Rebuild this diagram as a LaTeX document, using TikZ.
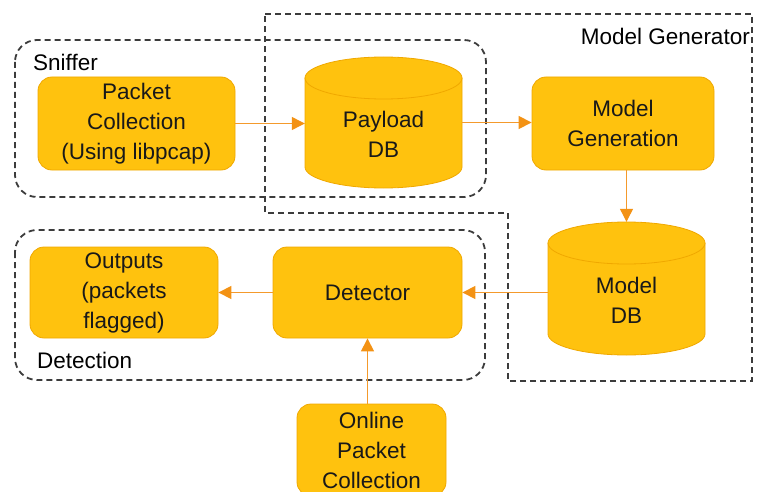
\documentclass[tikz,border=0pt]{standalone}
\usepackage{fontspec}
\setmainfont{Liberation Sans}
\usetikzlibrary{arrows.meta}

\definecolor{boxfill}{HTML}{FFC20E}
\definecolor{boxline}{HTML}{F0A800}
\definecolor{flow}{HTML}{F49A2C}
\definecolor{flowtip}{HTML}{F39214}
\definecolor{frame}{HTML}{3C3C3C}

\tikzset{
  txt/.style={font=\fontsize{22.5}{30}\selectfont, align=center, text=black!90, inner sep=0pt},
  box/.style={txt, draw=boxline, fill=boxfill, line width=0.8pt, rounded corners=14pt},
  dbnode/.style={inner sep=0pt},
  flowarrow/.style={draw=flow, line width=1.2pt, -{Triangle[length=13pt,width=13pt,color=flowtip]}},
  region/.style={draw=frame, line width=1.8pt, dash pattern=on 6pt off 4pt},
  title/.style={font=\fontsize{22.5}{27}\selectfont, text=black, inner sep=0pt},
}

% database cylinder: centre x, centre y, half width, half height
\newcommand\dbcylinder[4]{%
  \fill[boxfill] (#1-#3,#2+#4-21) -- (#1-#3,#2-#4+21)
    arc[start angle=180,end angle=360,x radius=#3,y radius=21]
    -- (#1+#3,#2+#4-21) -- cycle;
  \draw[boxline, line width=0.8pt] (#1-#3,#2+#4-21) -- (#1-#3,#2-#4+21)
    arc[start angle=180,end angle=360,x radius=#3,y radius=21]
    -- (#1+#3,#2+#4-21);
  \filldraw[fill=boxfill, draw=boxline, line width=0.8pt]
    (#1,#2+#4-21) ellipse[x radius=#3, y radius=21];
}

\begin{document}
\begin{tikzpicture}[x=1pt,y=1pt]
\useasboundingbox (0,0) rectangle (765,491);

% dashed groupings
\draw[region, rounded corners=22pt] (15,451) rectangle (486,294);
\draw[region, rounded corners=22pt] (15,261) rectangle (485,111);
\draw[region] (265,477) -- (752,477) -- (752,110) -- (508,110) -- (508,278) -- (265,278) -- cycle;

\node[title, anchor=west] (sniffer) at (33,429) {Sniffer};
\node[title, anchor=east] (modelgen) at (750,455) {Model Generator};
\node[title, anchor=west] (detection) at (37,131) {Detection};

% processing boxes
\node[box, minimum width=197pt, minimum height=93pt] (pc) at (136.5,367.5) {Packet\\Collection\\(Using libpcap)};
\node[box, minimum width=182pt, minimum height=93pt] (mg) at (623,367.5) {Model\\Generation};
\node[box, minimum width=189pt, minimum height=91pt] (det) at (367.5,198.5) {Detector};
\node[box, minimum width=188pt, minimum height=91pt] (out) at (124,198.5) {Outputs\\(packets\\flagged)};
\node[box, minimum width=149pt, minimum height=92pt] (online) at (371.5,41) {Online\\Packet\\Collection};

% databases
\dbcylinder{383.5}{368.5}{78.5}{65.5}
\node[dbnode, minimum width=157pt, minimum height=131pt] (payload) at (383.5,368.5) {};
\node[txt] (payloadtext) at (383.5,357) {Payload\\DB};

\dbcylinder{626.5}{202.5}{78.5}{66.5}
\node[dbnode, minimum width=157pt, minimum height=133pt] (modeldb) at (626.5,202.5) {};
\node[txt] (modeldbtext) at (626.5,191) {Model\\DB};

% data flow
\draw[flowarrow] (pc.east) -- (pc.east -| payload.west);
\draw[flowarrow] (payload.east) -- (payload.east -| mg.west);
\draw[flowarrow] (mg.south -| modeldb.north) -- (modeldb.north);
\draw[flowarrow] (modeldb.west |- det.east) -- (det.east);
\draw[flowarrow] (det.west) -- (det.west -| out.east);
\draw[flowarrow] (det.south |- online.north) -- (det.south);
\end{tikzpicture}
\end{document}
